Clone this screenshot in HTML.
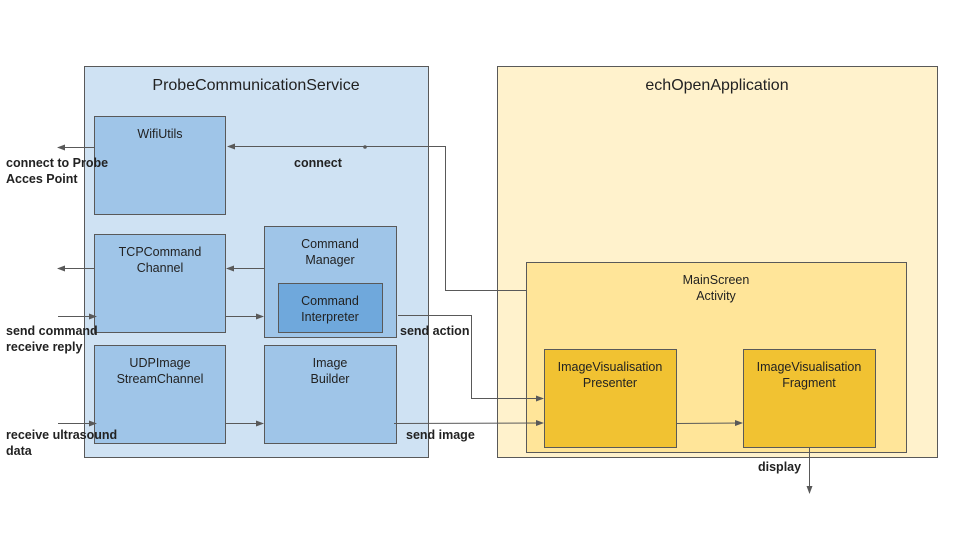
<!DOCTYPE html>
<html><head><meta charset="utf-8"><style>
html,body{margin:0;padding:0;background:#fff;width:960px;height:540px;overflow:hidden}
svg text{font-family:"Liberation Sans",Arial,sans-serif;fill:#222}
.t{font-size:12.5px}
.b{font-size:12.5px;font-weight:bold;fill:#222}
.h{font-size:16px}
</style></head><body>
<svg width="960" height="540" viewBox="0 0 960 540" xmlns="http://www.w3.org/2000/svg">
<defs>
<marker id="a" markerWidth="8" markerHeight="6" refX="7" refY="3" orient="auto" markerUnits="userSpaceOnUse">
<path d="M0,0 L8,3 L0,6 z" fill="#595959"/></marker>
</defs>
<g stroke="#595959" stroke-width="1">
<rect x="84.5" y="66.5" width="344" height="391" fill="#cfe2f3"/>
<rect x="497.5" y="66.5" width="440" height="391" fill="#fff2cc"/>
<rect x="526.5" y="262.5" width="380" height="190" fill="#ffe599"/>
<rect x="544.5" y="349.5" width="132" height="98" fill="#f1c232"/>
<rect x="743.5" y="349.5" width="132" height="98" fill="#f1c232"/>
<rect x="94.5" y="116.5" width="131" height="98" fill="#9fc5e8"/>
<rect x="94.5" y="234.5" width="131" height="98" fill="#9fc5e8"/>
<rect x="264.5" y="226.5" width="132" height="111" fill="#9fc5e8"/>
<rect x="278.5" y="283.5" width="104" height="49" fill="#6fa8dc"/>
<rect x="94.5" y="345.5" width="131" height="98" fill="#9fc5e8"/>
<rect x="264.5" y="345.5" width="132" height="98" fill="#9fc5e8"/>
</g>
<g stroke="#595959" stroke-width="1" fill="none">
<polyline points="527,290.5 445.5,290.5 445.5,146.5 228,146.5" marker-end="url(#a)"/>
<line x1="95" y1="147.5" x2="58" y2="147.5" marker-end="url(#a)"/>
<line x1="95" y1="268.5" x2="58" y2="268.5" marker-end="url(#a)"/>
<line x1="58" y1="316.5" x2="96" y2="316.5" marker-end="url(#a)"/>
<line x1="58" y1="423.5" x2="96" y2="423.5" marker-end="url(#a)"/>
<line x1="264" y1="268.5" x2="227" y2="268.5" marker-end="url(#a)"/>
<line x1="226" y1="316.5" x2="263" y2="316.5" marker-end="url(#a)"/>
<line x1="226" y1="423.5" x2="263" y2="423.5" marker-end="url(#a)"/>
<polyline points="398,315.5 471.5,315.5 471.5,398.5 543,398.5" marker-end="url(#a)"/>
<line x1="394" y1="423.5" x2="543" y2="423" marker-end="url(#a)"/>
<line x1="677" y1="423.5" x2="742" y2="423" marker-end="url(#a)"/>
<line x1="809.5" y1="448" x2="809.5" y2="493" marker-end="url(#a)"/>
</g>
<circle cx="365" cy="147" r="1.8" fill="#595959"/>
<text class="h" x="256" y="90" text-anchor="middle">ProbeCommunicationService</text>
<text class="h" x="717" y="90" text-anchor="middle">echOpenApplication</text>
<text class="t" x="160" y="138" text-anchor="middle">WifiUtils</text>
<text class="t" x="160" y="256" text-anchor="middle">TCPCommand</text>
<text class="t" x="160" y="272" text-anchor="middle">Channel</text>
<text class="t" x="330" y="248" text-anchor="middle">Command</text>
<text class="t" x="330" y="264" text-anchor="middle">Manager</text>
<text class="t" x="330" y="305" text-anchor="middle">Command</text>
<text class="t" x="330" y="321" text-anchor="middle">Interpreter</text>
<text class="t" x="160" y="367" text-anchor="middle">UDPImage</text>
<text class="t" x="160" y="383" text-anchor="middle">StreamChannel</text>
<text class="t" x="330" y="367" text-anchor="middle">Image</text>
<text class="t" x="330" y="383" text-anchor="middle">Builder</text>
<text class="t" x="716" y="284" text-anchor="middle">MainScreen</text>
<text class="t" x="716" y="300" text-anchor="middle">Activity</text>
<text class="t" x="610" y="371" text-anchor="middle">ImageVisualisation</text>
<text class="t" x="610" y="387" text-anchor="middle">Presenter</text>
<text class="t" x="809" y="371" text-anchor="middle">ImageVisualisation</text>
<text class="t" x="809" y="387" text-anchor="middle">Fragment</text>
<text class="b" x="6" y="167">connect to Probe</text>
<text class="b" x="6" y="183">Acces Point</text>
<text class="b" x="294" y="167">connect</text>
<text class="b" x="6" y="335">send command</text>
<text class="b" x="6" y="351">receive reply</text>
<text class="b" x="400" y="335">send action</text>
<text class="b" x="6" y="439">receive ultrasound</text>
<text class="b" x="6" y="455">data</text>
<text class="b" x="406" y="439">send image</text>
<text class="b" x="758" y="471">display</text>
</svg>
</body></html>
